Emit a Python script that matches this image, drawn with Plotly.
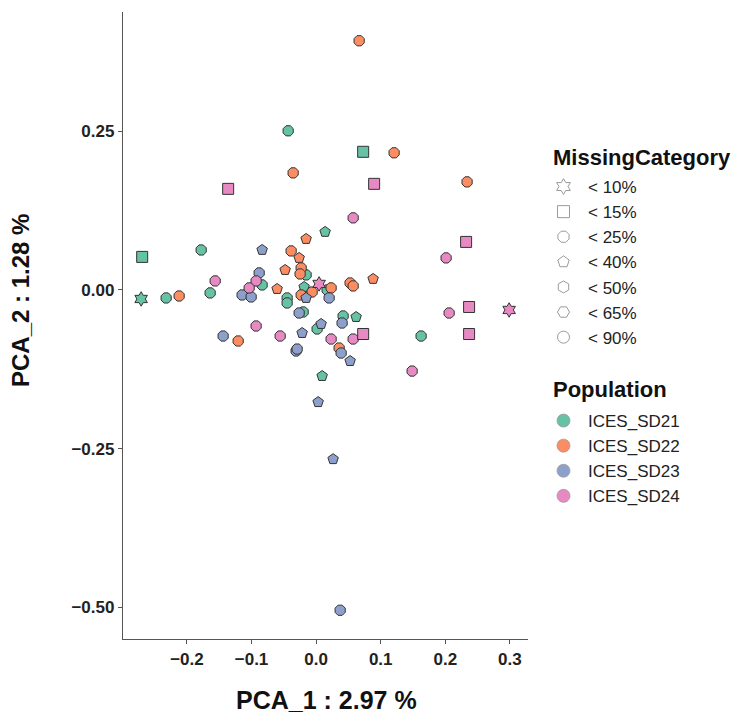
import plotly.graph_objects as go

# ---- data ----
populations = ["ICES_SD21", "ICES_SD22", "ICES_SD23", "ICES_SD24"]
pop_colors = ["#66C2A5", "#FC8D62", "#8DA0CB", "#E78AC3"]
categories = ["< 10%", "< 15%", "< 25%", "< 40%", "< 50%", "< 65%", "< 90%"]
cat_symbols = ["hexagram", "square", "octagon", "pentagon", "hexagon", "hexagon2", "circle"]

sd21_x = [-0.2693, -0.178, -0.0433, 0.0728, 0.0139, -0.0155, -0.0836, -0.1641, -0.2322, -0.2709,
          -0.0449, -0.0449, -0.0186, 0.017, -0.0201, 0.0015, 0.0418, 0.0619, 0.1625, 0.0093]
sd21_y = [0.0521, 0.063, 0.2508, 0.2177, 0.0915, 0.0237, 0.0079, -0.0047, -0.0126, -0.0142,
          -0.0126, -0.0205, 0.0047, 0.0, -0.0347, -0.0615, -0.041, -0.0426, -0.0726, -0.1356]
sd21_cat = ["< 15%", "< 25%", "< 25%", "< 15%", "< 40%", "< 25%", "< 25%", "< 25%", "< 25%", "< 10%",
            "< 25%", "< 25%", "< 40%", "< 25%", "< 25%", "< 25%", "< 25%", "< 40%", "< 25%", "< 40%"]

sd22_x = [0.0666, 0.1207, 0.2337, -0.0356, -0.0155, -0.0387, -0.0263, -0.048, -0.0232, -0.0248,
          -0.2121, -0.0604, 0.0232, -0.0232, -0.0062, -0.1207, 0.0356, 0.0526, 0.0573, 0.0882]
sd22_y = [0.3927, 0.2161, 0.1703, 0.1845, 0.0804, 0.0615, 0.0505, 0.0315, 0.0347, 0.0252,
          -0.0095, 0.0016, 0.0032, -0.0079, -0.0032, -0.0804, -0.0915, 0.011, 0.0063, 0.0174]
sd22_cat = ["< 25%", "< 25%", "< 25%", "< 25%", "< 40%", "< 25%", "< 40%", "< 40%", "< 25%", "< 25%",
            "< 25%", "< 40%", "< 25%", "< 25%", "< 25%", "< 25%", "< 25%", "< 25%", "< 25%", "< 40%"]

sd23_x = [-0.0836, -0.0882, -0.1146, -0.1006, -0.0155, 0.0201, -0.0263, -0.0217, -0.144, -0.031,
          -0.0294, 0.0077, 0.0402, 0.0387, 0.0526, 0.0031, 0.0263, 0.0372]
sd23_y = [0.0631, 0.0268, -0.0079, -0.011, -0.0126, -0.0126, -0.0363, -0.0678, -0.0726, -0.0962,
          -0.0931, -0.0536, -0.0521, -0.0994, -0.112, -0.1767, -0.2666, -0.5047]
sd23_cat = ["< 40%", "< 25%", "< 25%", "< 25%", "< 40%", "< 25%", "< 25%", "< 40%", "< 25%", "< 25%",
            "< 25%", "< 40%", "< 25%", "< 25%", "< 40%", "< 40%", "< 40%", "< 25%"]

sd24_x = [-0.1362, 0.0898, 0.0573, 0.2322, 0.2012, 0.2368, 0.2059, 0.2988, 0.2368, 0.1486,
          -0.1563, -0.0929, -0.1037, 0.0046, -0.0929, -0.0557, 0.0232, 0.0573, 0.0728]
sd24_y = [0.1593, 0.1672, 0.1136, 0.0757, 0.0505, -0.0268, -0.0363, -0.0315, -0.0694, -0.1278,
          0.0142, 0.0142, 0.0032, 0.0095, -0.0568, -0.0726, -0.0773, -0.0773, -0.0694]
sd24_cat = ["< 15%", "< 15%", "< 25%", "< 15%", "< 25%", "< 15%", "< 25%", "< 10%", "< 15%", "< 25%",
            "< 25%", "< 25%", "< 25%", "< 10%", "< 25%", "< 25%", "< 25%", "< 25%", "< 15%"]

x_ticks = [-0.2, -0.1, 0.0, 0.1, 0.2, 0.3]
y_ticks = [-0.50, -0.25, 0.00, 0.25]

FONT = "Liberation Sans, Arial, sans-serif"
sym_of = dict(zip(categories, cat_symbols))

fig = go.Figure()

series = [(sd21_x, sd21_y, sd21_cat), (sd22_x, sd22_y, sd22_cat),
          (sd23_x, sd23_y, sd23_cat), (sd24_x, sd24_y, sd24_cat)]

for (xs, ys, cs), pop, col in zip(series, populations, pop_colors):
    fig.add_trace(go.Scatter(
        x=xs, y=ys, mode="markers", name=pop, showlegend=False,
        marker=dict(color=col, size=11, symbol=[sym_of[c] for c in cs],
                    line=dict(color="#333333", width=1)),
    ))

# legend: MissingCategory
for cat, sym in zip(categories, cat_symbols):
    fig.add_trace(go.Scatter(
        x=[None], y=[None], mode="markers", name=cat, legend="legend",
        marker=dict(color="white", size=12, symbol=sym,
                    line=dict(color="#9a9a9a", width=1)),
    ))

# legend: Population
for pop, col in zip(populations, pop_colors):
    fig.add_trace(go.Scatter(
        x=[None], y=[None], mode="markers", name=pop, legend="legend2",
        marker=dict(color=col, size=13, symbol="circle",
                    line=dict(color="#9a9a9a", width=0.8)),
    ))

axis_common = dict(
    showgrid=False, zeroline=False, showline=True, linecolor="#555555", linewidth=1.3,
    ticks="outside", ticklen=4, tickcolor="#555555", tickwidth=1.2,
    tickfont=dict(family=FONT, size=17, color="#222222", weight="bold"),
)

plot_h = 716 - 12 - 77
plot_w = 732 - 123 - 204


def px_x(px):
    return (px - 123) / plot_w


def px_y(py):
    return (639 - py) / plot_h


fig.update_layout(
    width=732, height=716,
    margin=dict(l=123, r=204, t=12, b=77),
    paper_bgcolor="white", plot_bgcolor="white",
    font=dict(family=FONT, color="#222222"),
    xaxis=dict(range=[-0.299, 0.328], tickvals=x_ticks, tickformat=".1f", **axis_common),
    yaxis=dict(range=[-0.550, 0.438], tickvals=y_ticks, tickformat=".2f", **axis_common),
    legend=dict(
        font=dict(family=FONT, size=17, color="#222222"),
        x=px_x(539), xanchor="left", y=px_y(169), yanchor="top",
        bgcolor="rgba(0,0,0,0)", itemsizing="trace", tracegroupgap=0, itemwidth=39,
    ),
    legend2=dict(
        font=dict(family=FONT, size=17, color="#222222"),
        x=px_x(539), xanchor="left", y=px_y(403), yanchor="top",
        bgcolor="rgba(0,0,0,0)", itemsizing="trace", itemwidth=39,
    ),
)

fig.add_annotation(text="MissingCategory", xref="paper", yref="paper",
                   x=px_x(551), y=px_y(157), showarrow=False, xanchor="left", yanchor="middle",
                   font=dict(family=FONT, size=22, weight="bold", color="#111111"))
fig.add_annotation(text="Population", xref="paper", yref="paper",
                   x=px_x(551), y=px_y(389), showarrow=False, xanchor="left", yanchor="middle",
                   font=dict(family=FONT, size=22, weight="bold", color="#111111"))
fig.add_annotation(text="PCA_1 : 2.97 %", xref="paper", yref="paper",
                   x=px_x(326), y=px_y(700), showarrow=False,
                   xanchor="center", yanchor="middle",
                   font=dict(family=FONT, size=25, weight="bold", color="#111111"))
fig.add_annotation(text="PCA_2 : 1.28 %", xref="paper", yref="paper",
                   x=px_x(20), y=px_y(301), showarrow=False,
                   textangle=-90, xanchor="center", yanchor="middle",
                   font=dict(family=FONT, size=24, weight="bold", color="#111111"))

fig.write_html("out.html")
